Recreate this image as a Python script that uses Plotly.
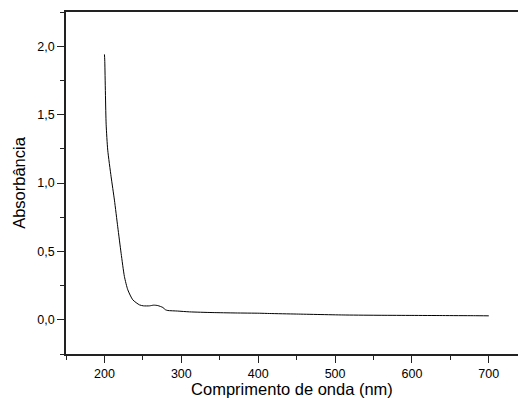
import plotly.graph_objects as go

wavelength = [200, 200.4, 202.2, 204.3, 208.7, 213, 217.3, 221.7, 226, 230.4, 236.9,
              245.6, 250.8, 258.6, 264, 269.4, 276, 279.5, 282.5, 295, 310.7, 340, 370,
              402, 415, 450, 514, 560, 600, 640, 680, 700]
absorbance = [1.94, 1.90, 1.43, 1.24, 1.045, 0.875, 0.68, 0.486, 0.316, 0.219, 0.146,
              0.109, 0.102, 0.102, 0.107, 0.104, 0.09, 0.073, 0.068, 0.064, 0.058, 0.053, 0.050,
              0.048, 0.046, 0.042, 0.035, 0.033, 0.032, 0.031, 0.030, 0.029]

x_ticks = [200, 300, 400, 500, 600, 700]
y_ticks = [0.0, 0.5, 1.0, 1.5, 2.0]

fig = go.Figure(go.Scatter(x=wavelength, y=absorbance, mode="lines",
                           line=dict(color="black", width=1, shape="spline", smoothing=0.6)))

font = "Liberation Sans, Arial, sans-serif"
fig.update_layout(
    width=518, height=398,
    margin=dict(l=66, r=0, t=12, b=44),
    paper_bgcolor="white", plot_bgcolor="white",
    separators=",.",
    showlegend=False,
    font=dict(family=font, color="black"),
)
fig.update_xaxes(
    range=[150, 738], tickvals=x_ticks, ticks="outside", ticklen=7, tickwidth=1,
    tickcolor="#222", showline=True, linecolor="#222", linewidth=1.5, mirror=True,
    showgrid=False, zeroline=False, tickfont=dict(size=12.5),
    minor=dict(dtick=50, tick0=150, ticks="outside", ticklen=4, tickcolor="#222", showgrid=False),
    title=dict(text="Comprimento de onda (nm)", font=dict(size=16.5), standoff=2),
)
fig.update_yaxes(
    range=[-0.25, 2.25], tickvals=y_ticks, tickformat=".1f", ticks="outside", ticklen=7,
    tickwidth=1, tickcolor="#222", showline=True, linecolor="#222", linewidth=1.5,
    showgrid=False, zeroline=False, tickfont=dict(size=12.5),
    minor=dict(dtick=0.25, tick0=-0.25, ticks="outside", ticklen=4, tickcolor="#222", showgrid=False),
    title=dict(text="Absorbância", font=dict(size=16.5), standoff=8),
)
fig.write_html("out.html")
